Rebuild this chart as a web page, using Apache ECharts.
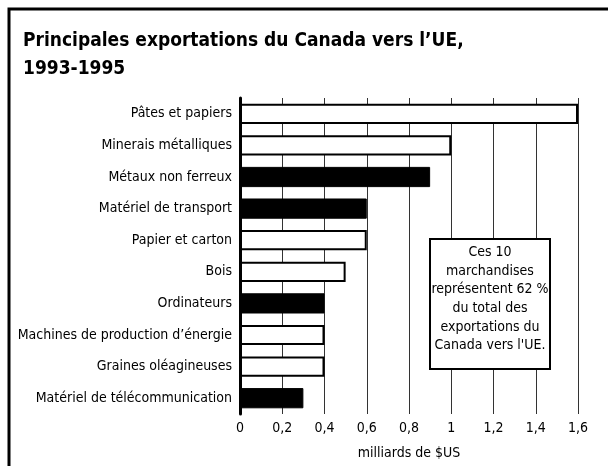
<!DOCTYPE html>
<html>
<head>
<meta charset="utf-8">
<script src="https://cdn.jsdelivr.net/npm/echarts@6/dist/echarts.min.js"></script>
<style>
  html, body { margin: 0; padding: 0; background: #fff; }
  #chart-container { width: 608px; height: 466px; }
</style>
</head>
<body>
<div id="chart-container"></div>
<script>
// données (milliards de $US)
var categories = [
  "Pâtes et papiers",
  "Minerais métalliques",
  "Métaux non ferreux",
  "Matériel de transport",
  "Papier et carton",
  "Bois",
  "Ordinateurs",
  "Machines de production d’énergie",
  "Graines oléagineuses",
  "Matériel de télécommunication"
];
var values = [1.6, 1.0, 0.9, 0.6, 0.6, 0.5, 0.4, 0.4, 0.4, 0.3];
// barres pleines (noires) ou vides
var filled = [false, false, true, true, false, false, true, false, false, true];
var xTicks = [0, 0.2, 0.4, 0.6, 0.8, 1, 1.2, 1.4, 1.6];

var FONT = "'Liberation Sans Narrow', 'DejaVu Sans Condensed', sans-serif";

var chartDom = document.getElementById("chart-container");
var myChart = echarts.init(chartDom);

var barData = values.map(function (v, i) {
  return {
    value: v,
    itemStyle: filled[i]
      ? { color: "#000", borderColor: "#000", borderWidth: 1 }
      : { color: "#fff", borderColor: "#000", borderWidth: 2 }
  };
});

var option = {
  backgroundColor: "#fff",
  animation: false,
  textStyle: { fontFamily: FONT, color: "#000" },
  title: {
    text: "Principales exportations du Canada vers l’UE,\n1993-1995",
    left: 18,
    top: 22,
    textStyle: {
      fontFamily: FONT,
      fontWeight: "bold",
      fontSize: 19,
      lineHeight: 28,
      color: "#000"
    }
  },
  grid: { left: 240, right: 30, top: 98, bottom: 52 },
  xAxis: {
    type: "value",
    min: xTicks[0],
    max: xTicks[xTicks.length - 1],
    interval: 0.2,
    name: "milliards de $US",
    nameLocation: "middle",
    nameGap: 32,
    nameTextStyle: { fontFamily: FONT, fontSize: 14, color: "#000" },
    axisLine: { show: false },
    axisTick: { show: false },
    axisLabel: {
      fontFamily: FONT,
      fontSize: 14,
      color: "#000",
      margin: 7,
      formatter: function (v) {
        return String(Math.round(v * 10) / 10).replace(".", ",");
      }
    },
    splitLine: { show: true, lineStyle: { color: "#333", width: 1 } }
  },
  yAxis: {
    type: "category",
    data: categories,
    inverse: true,
    axisLine: { show: true, lineStyle: { color: "#000", width: 3 } },
    axisTick: { show: false },
    axisLabel: { fontFamily: FONT, fontSize: 14, color: "#000", margin: 8 }
  },
  series: [
    {
      type: "bar",
      data: barData,
      barCategoryGap: "36%"
    }
  ],
  graphic: [
    // cadre (haut et gauche)
    {
      type: "polyline",
      shape: { points: [[9, 466], [9, 9], [608, 9]] },
      style: { stroke: "#000", lineWidth: 3, fill: null },
      z: 10
    },
    // encadré
    {
      type: "rect",
      shape: { x: 430, y: 239, width: 120, height: 130 },
      style: { fill: "#fff", stroke: "#000", lineWidth: 2 },
      z: 10
    },
    {
      type: "text",
      x: 490,
      y: 299,
      style: {
        text: "Ces 10\nmarchandises\nreprésentent 62 %\ndu total des\nexportations du\nCanada vers l'UE.",
        fontFamily: FONT,
        fontSize: 14,
        lineHeight: 18.6,
        fill: "#000",
        align: "center",
        verticalAlign: "middle"
      },
      z: 11
    }
  ]
};

option && myChart.setOption(option);

window.addEventListener("resize", function () {
  myChart.resize();
});
</script>
</body>
</html>
